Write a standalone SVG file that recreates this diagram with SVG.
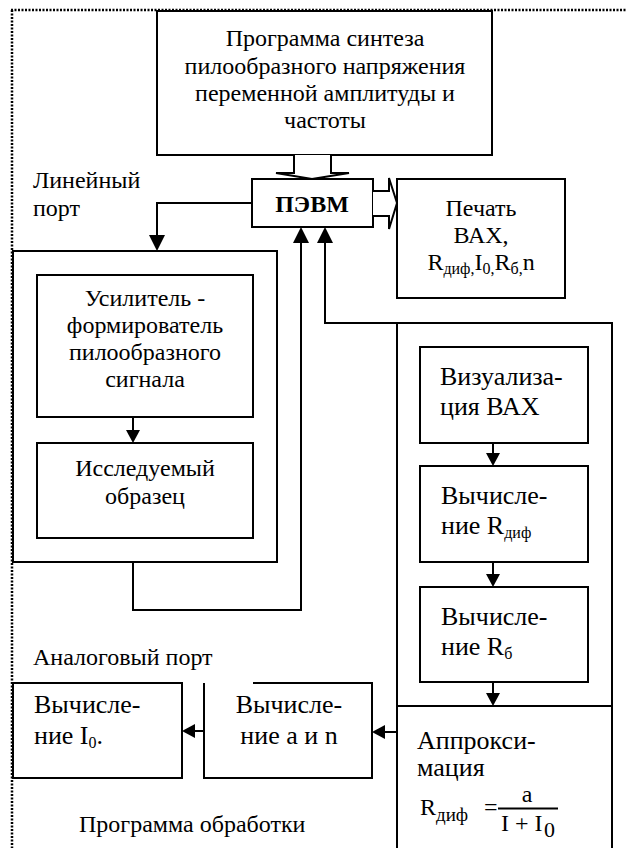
<svg xmlns="http://www.w3.org/2000/svg" width="627" height="848" viewBox="0 0 627 848">
<style>
  .bx{fill:#fff;stroke:#000;stroke-width:2}
  .ln{fill:none;stroke:#000;stroke-width:2}
  .ah{fill:#000;stroke:none}
  text{font-family:"Liberation Serif","Times New Roman",serif;fill:#000}
  .t24{font-size:24px}
  .t26{font-size:26px}
  .c{text-anchor:middle}
  .sub{font-size:16px}
</style>
<rect width="627" height="848" fill="#fff"/>
<g id="frame">
  <path d="M11,10 H627 M12,10 V848" fill="none" stroke="#000" stroke-width="2.5" stroke-dasharray="2,1.5"/>
</g>
<g id="labels">
  <text class="t24" x="33" y="188">Линейный</text>
  <text class="t24" x="33" y="216">порт</text>
  <text class="t24" x="33" y="665">Аналоговый порт</text>
  <text class="t24" x="79" y="832">Программа обработки</text>
</g>
<g id="synth">
  <rect class="bx" x="157" y="11" width="335" height="144"/>
  <text class="t24 c" x="325" y="46">Программа синтеза</text>
  <text class="t24 c" x="325" y="74">пилообразного напряжения</text>
  <text class="t24 c" x="325" y="101">переменной амплитуды и</text>
  <text class="t24 c" x="325" y="128">частоты</text>
</g>
<g id="pc">
  <rect class="bx" x="252" y="179" width="121" height="48"/>
  <text class="t24 c" x="312" y="212" font-weight="bold">ПЭВМ</text>
</g>
<g id="print">
  <rect class="bx" x="397" y="179" width="168" height="119"/>
  <text class="t24 c" x="481" y="216">Печать</text>
  <text class="t24 c" x="481" y="243">ВАХ,</text>
  <text class="t24 c" x="481" y="270">R<tspan class="sub" dy="4">диф,</tspan><tspan dy="-4">I</tspan><tspan class="sub" dy="4">0,</tspan><tspan dy="-4">R</tspan><tspan class="sub" dy="4">б,</tspan><tspan dy="-4">n</tspan></text>
</g>
<g id="analog-block">
  <rect class="bx" x="13" y="251" width="264" height="311"/>
</g>
<g id="amplifier">
  <rect class="bx" x="37" y="275" width="216" height="142"/>
  <text class="t24 c" x="145" y="306">Усилитель -</text>
  <text class="t24 c" x="145" y="333">формирователь</text>
  <text class="t24 c" x="145" y="360">пилообразного</text>
  <text class="t24 c" x="145" y="387">сигнала</text>
</g>
<g id="sample">
  <rect class="bx" x="37" y="443" width="216" height="95"/>
  <text class="t24 c" x="145" y="476">Исследуемый</text>
  <text class="t24 c" x="145" y="504">образец</text>
</g>
<g id="processing-block">
  <rect class="bx" x="397" y="323" width="215" height="530"/>
</g>
<g id="visual">
  <rect class="bx" x="420" y="347" width="168" height="96"/>
  <text class="t26" x="440" y="385">Визуализа-</text>
  <text class="t26" x="440" y="415">ция ВАХ</text>
</g>
<g id="calc-rdif">
  <rect class="bx" x="420" y="466" width="168" height="96"/>
  <text class="t26" x="441" y="504">Вычисле-</text>
  <text class="t26" x="441" y="534">ние R<tspan class="sub" dy="4">диф</tspan></text>
</g>
<g id="calc-rb">
  <rect class="bx" x="420" y="587" width="168" height="95"/>
  <text class="t26" x="441" y="625">Вычисле-</text>
  <text class="t26" x="441" y="655">ние R<tspan class="sub" dy="4">б</tspan></text>
</g>
<g id="approx">
  <path class="ln" d="M397,706 H612"/>
  <text class="t26" x="417" y="749">Аппрокси-</text>
  <text class="t26" x="417" y="776">мация</text>
  <text class="t24" x="420" y="815">R</text>
  <text x="436" y="821" font-size="19">диф</text>
  <text class="t24" x="484" y="815">=</text>
  <path class="ln" d="M498,808.5 H558" stroke-width="1.2"/>
  <text class="t24 c" x="527" y="802">a</text>
  <text class="t24" x="501" y="831">I + I</text>
  <text x="544" y="837" font-size="22">0</text>
</g>
<g id="calc-an">
  <path class="bx" d="M253,683 H372 V778 H204 V683"/>
  <text class="t26 c" x="289" y="713">Вычисле-</text>
  <text class="t26 c" x="289" y="744">ние a и n</text>
</g>
<g id="calc-i0">
  <rect class="bx" x="13" y="683" width="169" height="95"/>
  <text class="t26" x="34" y="713">Вычисле-</text>
  <text class="t26" x="34" y="744">ние I<tspan class="sub" dy="4">0</tspan><tspan dy="-4">.</tspan></text>
</g>
<g id="connectors">
  <path class="bx" d="M294,155 V173 H276 L312,179 L349,173 H331 V155"/>
  <path class="bx" d="M373,191 H389 V178 L397,203 L389,229 V216 H373"/>
  <path class="ln" d="M252,203 H157 V240"/>
  <path class="ah" d="M149,235 H165 L157,251 Z"/>
  <path class="ln" d="M133,562 V610 H301 V238"/>
  <path class="ah" d="M293,243 H309 L301,227 Z"/>
  <path class="ln" d="M397,323 H325 V238"/>
  <path class="ah" d="M317,243 H333 L325,227 Z"/>
  <path class="ln" d="M133,417 V432"/>
  <path class="ah" d="M126,430 H140 L133,443 Z"/>
  <path class="ln" d="M493,443 V455"/>
  <path class="ah" d="M486,453 H500 L493,466 Z"/>
  <path class="ln" d="M493,562 V576"/>
  <path class="ah" d="M486,574 H500 L493,587 Z"/>
  <path class="ln" d="M493,682 V695"/>
  <path class="ah" d="M486,693 H500 L493,706 Z"/>
  <path class="ln" d="M397,732 H383"/>
  <path class="ah" d="M385,725 V739 L372,732 Z"/>
  <path class="ln" d="M204,731 H193"/>
  <path class="ah" d="M195,724 V738 L182,731 Z"/>
</g>
</svg>
